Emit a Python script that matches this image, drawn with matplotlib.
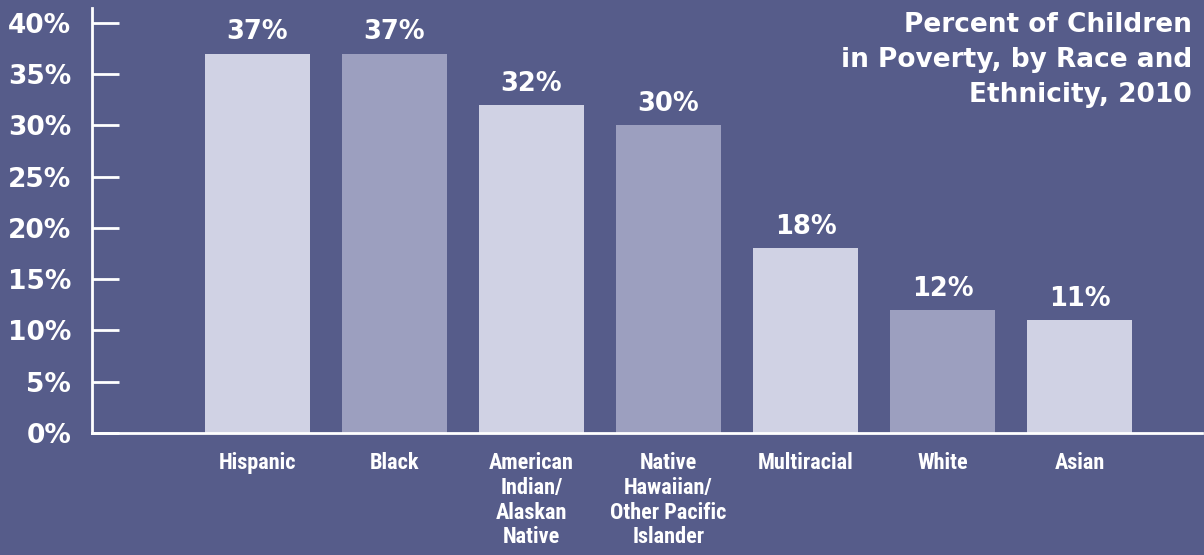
import matplotlib
matplotlib.use("Agg")
import matplotlib.pyplot as plt
from matplotlib import font_manager

categories = ["Hispanic", "Black", "American\nIndian/\nAlaskan\nNative",
              "Native\nHawaiian/\nOther Pacific\nIslander", "Multiracial", "White", "Asian"]
values = [37, 37, 32, 30, 18, 12, 11]
value_labels = ["37%", "37%", "32%", "30%", "18%", "12%", "11%"]
yticks = [0, 5, 10, 15, 20, 25, 30, 35, 40]
ytick_labels = ["0%", "5%", "10%", "15%", "20%", "25%", "30%", "35%", "40%"]
title = "Percent of Children\nin Poverty, by Race and\nEthnicity, 2010"

BG = "#565C8A"
LIGHT = "#D0D2E4"
DARK = "#9C9FBF"

names = {f.name for f in font_manager.fontManager.ttflist}
narrow = None
for cand in ["Roboto Condensed", "Liberation Sans Narrow", "DejaVu Sans Condensed", "Open Sans Condensed"]:
    if cand in names:
        narrow = cand
        break
main = "DejaVu Sans"

fig = plt.figure(figsize=(12.04, 5.55), dpi=100, facecolor=BG)
W, H = 1204, 555
ax = fig.add_axes([92 / W, (H - 433) / H, (1202 - 92) / W, (433 - 8) / H])
ax.set_facecolor(BG)

x = list(range(len(categories)))
colors = [LIGHT if i % 2 == 0 else DARK for i in x]
ax.bar(x, values, width=0.77, color=colors, zorder=2)

for xi, v, lab in zip(x, values, value_labels):
    ax.annotate(lab, (xi, v), xytext=(0, 6), textcoords="offset points",
                ha="center", va="bottom", color="white", fontsize=18.5,
                fontweight="bold", family=main)

ax.set_xlim(-1.208, 6.894)
ax.set_ylim(0, 41.46)
ax.set_yticks(yticks)
ax.set_yticklabels(ytick_labels, fontsize=19, fontweight="bold", family=main, color="white")
ax.tick_params(axis="y", direction="in", length=19.5, width=2, color="white", pad=15)
ax.set_xticks(x)
if narrow:
    ax.set_xticklabels(categories, fontsize=16, fontweight="bold", family=narrow,
                       color="white", linespacing=1.15, va="top")
else:
    ax.set_xticklabels(categories, fontsize=15, fontweight="bold", family=main,
                       stretch="condensed", color="white", linespacing=1.3, va="top")
ax.tick_params(axis="x", length=0, pad=14)

for s in ["top", "right"]:
    ax.spines[s].set_visible(False)
for s in ["left", "bottom"]:
    ax.spines[s].set_color("white")
    ax.spines[s].set_linewidth(2)
    ax.spines[s].set_zorder(3)

fig.text(1192 / W, 1 - 12 / H, title, ha="right", va="top", color="white",
         fontsize=19, fontweight="bold", family=main, linespacing=1.45)

fig.savefig("out.png", dpi=100, facecolor=BG)
